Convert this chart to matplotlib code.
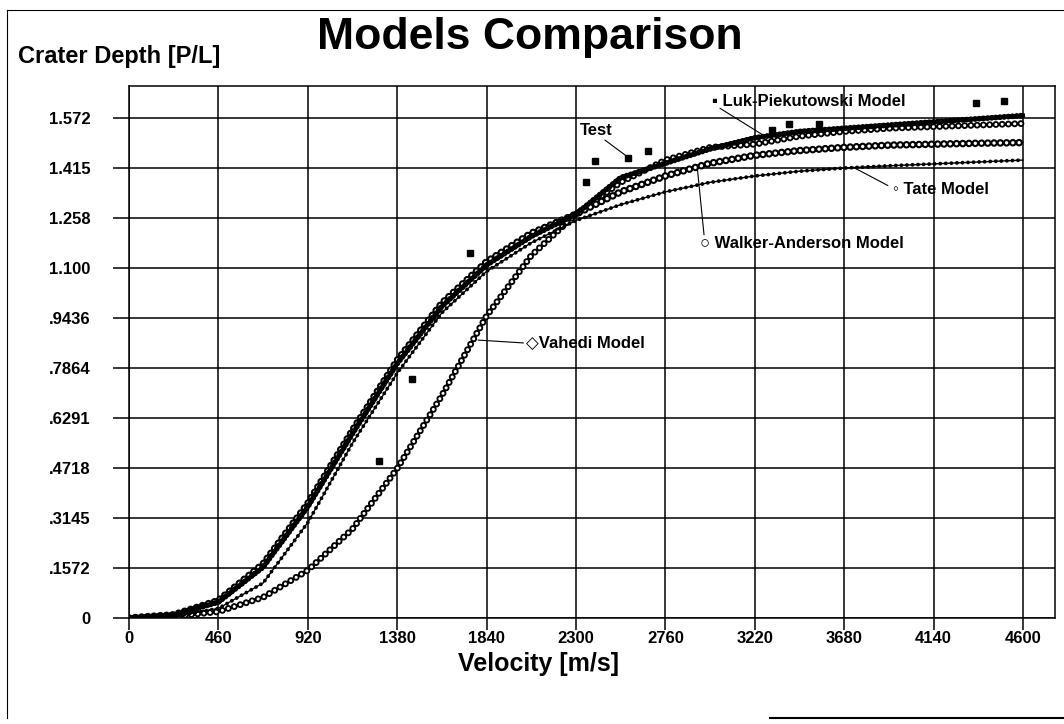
import matplotlib
matplotlib.use("Agg")
import matplotlib.pyplot as plt
from matplotlib.lines import Line2D

plt.rcParams['font.family'] = ['Liberation Sans', 'DejaVu Sans']

velocity = [0, 230, 460, 690, 920, 1150, 1380, 1610, 1840, 2070, 2300,
            2530, 2760, 2990, 3220, 3450, 3680, 3910, 4140, 4370, 4600]

# crater depth P/L for each model
luk_piekutowski = [0, 0.01, 0.05, 0.16, 0.35, 0.58, 0.80, 0.98, 1.11, 1.20, 1.27,
                   1.385, 1.43, 1.475, 1.51, 1.53, 1.54, 1.55, 1.56, 1.57, 1.58]
walker_anderson = [0, 0.01, 0.055, 0.17, 0.36, 0.59, 0.81, 0.99, 1.12, 1.21, 1.27,
                   1.34, 1.39, 1.43, 1.455, 1.47, 1.48, 1.487, 1.49, 1.493, 1.495]
tate = [0, 0.005, 0.03, 0.11, 0.30, 0.55, 0.77, 0.96, 1.09, 1.18, 1.25,
        1.30, 1.34, 1.37, 1.39, 1.405, 1.415, 1.422, 1.428, 1.434, 1.44]
vahedi = [0, 0.005, 0.02, 0.065, 0.15, 0.28, 0.47, 0.70, 0.95, 1.14, 1.27,
          1.37, 1.44, 1.48, 1.49, 1.515, 1.53, 1.54, 1.545, 1.55, 1.555]

# test shots
test_v = [1286, 1456, 1755, 2352, 2398, 2568, 2671, 3308, 3396, 3550, 4358, 4502]
test_d = [0.494, 0.751, 1.148, 1.371, 1.437, 1.446, 1.468, 1.534, 1.553, 1.553, 1.619, 1.625]

x_ticks = [0, 460, 920, 1380, 1840, 2300, 2760, 3220, 3680, 4140, 4600]
y_ticks = [0, 0.1572, 0.3145, 0.4718, 0.6291, 0.7864, 0.9436, 1.100, 1.258, 1.415, 1.572]
y_labels = ['0', '.1572', '.3145', '.4718', '.6291', '.7864', '.9436',
            '1.100', '1.258', '1.415', '1.572']


def chain(ax, x, y, size, step, hollow=False, lw=1.0):
    """line drawn as a chain of dots (or rings) like the old plotter output"""
    ax.plot(x, y, color='k', lw=lw, zorder=3)
    ax.plot(x, y, color='k', lw=size, ls=(0, (1e-3, step / size)),
            dash_capstyle='round', zorder=3)
    if hollow:
        inner = size * 0.45
        ax.plot(x, y, color='w', lw=inner, ls=(0, (1e-3 * size / inner, step / inner)),
                dash_capstyle='round', zorder=3)


W, H = 1064, 724
fig = plt.figure(figsize=(W / 100, H / 100), dpi=100)
ax = fig.add_axes([129 / W, 1 - 618 / H, (1055 - 129) / W, (618 - 86) / H])

chain(ax, velocity, vahedi, 5.0, 4.5, hollow=True, lw=0.8)
chain(ax, velocity, walker_anderson, 5.5, 4.5, hollow=True, lw=0.8)
chain(ax, velocity, tate, 2.8, 4.0, lw=1.0)
chain(ax, velocity, luk_piekutowski, 4.2, 3.0, lw=3.0)
ax.plot(test_v, test_d, 's', color='k', ms=4.5, ls='none', zorder=5)

ax.set_xlim(0, 4765)
ax.set_ylim(0, 1.673)
ax.set_xticks(x_ticks)
ax.set_xticklabels([str(v) for v in x_ticks])
ax.set_yticks(y_ticks)
ax.set_yticklabels(y_labels)
ax.grid(True, color='k', lw=1.1)
ax.set_axisbelow(True)
for s in ax.spines.values():
    s.set_linewidth(1.1)

tick_font = dict(family=['Liberation Sans Narrow', 'DejaVu Sans Condensed', 'Liberation Sans'],
                 weight='bold', size=12)
for lab in ax.get_xticklabels() + ax.get_yticklabels():
    lab.set_fontproperties(tick_font)
ax.tick_params(axis='x', direction='out', length=8.5, width=1.1, pad=1)
ax.tick_params(axis='y', direction='out', length=11.5, width=1.1, pad=16)

# labels with leader lines
lab_kw = dict(fontsize=12, fontweight='bold', va='center', ha='left', zorder=6)
line_kw = dict(arrowstyle='-', color='k', lw=0.8, shrinkA=0, shrinkB=0)

ax.text(2321, 1.534, 'Test', **lab_kw)
ax.annotate('', xy=(2568, 1.449), xytext=(2449, 1.503), arrowprops=line_kw)

ax.text(3000, 1.625, '▪ Luk-Piekutowski Model', **lab_kw)
ax.annotate('', xy=(3262, 1.519), xytext=(3041, 1.603), arrowprops=line_kw)

ax.text(3931, 1.346, '◦ Tate Model', **lab_kw)
ax.annotate('', xy=(3725, 1.418), xytext=(3905, 1.36), arrowprops=line_kw)

ax.text(2938, 1.179, '○ Walker-Anderson Model', **lab_kw)
ax.annotate('', xy=(2923, 1.424), xytext=(2959, 1.205), arrowprops=line_kw)

ax.text(2043, 0.865, '◇Vahedi Model', **lab_kw)
ax.annotate('', xy=(1796, 0.874), xytext=(2030, 0.865), arrowprops=line_kw)

# titles
fig.text(530 / W, 1 - 38 / H, 'Models Comparison', ha='center', va='center',
         fontsize=32, fontweight='bold')
fig.text(18 / W, 1 - 63 / H, 'Crater Depth [P/L]', ha='left', va='baseline',
         fontsize=17, fontweight='bold')
fig.text(538 / W, 1 - 664 / H, 'Velocity [m/s]', ha='center', va='center',
         fontsize=18, fontweight='bold')

# outer frame of the scanned page
fig.add_artist(Line2D([7 / W, 7 / W], [1 - 10 / H, 1 - 718 / H], color='k', lw=0.8))
fig.add_artist(Line2D([7 / W, 1], [1 - 10 / H, 1 - 10 / H], color='k', lw=0.8))
fig.add_artist(Line2D([770 / W, 1], [1 - 718 / H, 1 - 718 / H], color='k', lw=1.5))

fig.savefig('out.png', dpi=100)
